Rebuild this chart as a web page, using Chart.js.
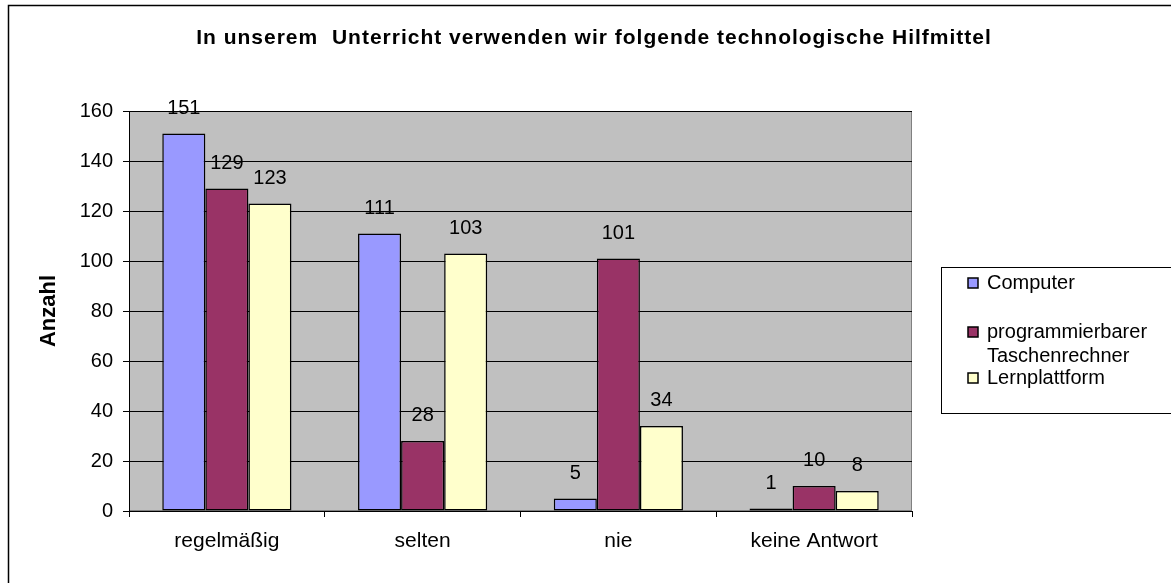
<!DOCTYPE html>
<html><head><meta charset="utf-8">
<script src="https://cdn.jsdelivr.net/npm/chart.js@4"></script>
<style>html,body{margin:0;padding:0;background:#fff}#wrap{width:1171px;height:583px;position:relative}</style>
</head><body><div id="wrap"><canvas id="c" width="1171" height="583"></canvas></div>
<script>
const titleText = 'In unserem  Unterricht verwenden wir folgende technologische Hilfmittel';
const axisTitle = 'Anzahl';
const categories = ['regelmäßig', 'selten', 'nie', 'keine Antwort'];
const seriesNames = ['Computer', 'programmierbarer Taschenrechner', 'Lernplattform'];
const computer = [151, 111, 5, 1];
const taschenrechner = [129, 28, 101, 10];
const lernplattform = [123, 103, 34, 8];
const yTicks = [0, 20, 40, 60, 80, 100, 120, 140, 160];
const colors = ['#9999FF', '#993366', '#FFFFCC'];

const FONT = "'Liberation Sans', Arial, sans-serif";
Chart.defaults.font.family = FONT;
Chart.defaults.color = '#000';

const decor = {
  id: 'decor',
  beforeDraw(chart) {
    const ctx = chart.ctx, a = chart.chartArea;
    ctx.save();
    ctx.fillStyle = '#fff';
    ctx.fillRect(0, 0, chart.width, chart.height);
    ctx.strokeStyle = '#000';
    ctx.lineWidth = 1.5;
    ctx.beginPath();
    ctx.moveTo(8.5, chart.height + 2);
    ctx.lineTo(8.5, 5.5);
    ctx.lineTo(chart.width + 2, 5.5);
    ctx.stroke();
    ctx.fillStyle = '#C0C0C0';
    ctx.fillRect(a.left, a.top, a.right - a.left, a.bottom - a.top);
    ctx.lineWidth = 1;
    ctx.strokeStyle = '#808080';
    ctx.strokeRect(a.left + 0.5, a.top + 0.5, a.right - a.left - 1, a.bottom - a.top - 1);
    ctx.restore();
  },
  afterDatasetsDraw(chart) {
    const ctx = chart.ctx;
    ctx.save();
    ctx.font = '20px ' + FONT;
    ctx.fillStyle = '#000';
    ctx.textAlign = 'center';
    ctx.textBaseline = 'alphabetic';
    chart.data.datasets.forEach((ds, i) => {
      chart.getDatasetMeta(i).data.forEach((el, j) => {
        ctx.fillText(String(ds.data[j]), el.x, el.y - 20);
      });
    });
    ctx.restore();
  },
  afterDraw(chart) {
    const ctx = chart.ctx;
    ctx.save();
    // title
    ctx.font = 'bold 21px ' + FONT;
    ctx.letterSpacing = '1px';
    ctx.fillStyle = '#000';
    ctx.textAlign = 'center';
    ctx.textBaseline = 'alphabetic';
    ctx.fillText(titleText, 594, 44);
    ctx.letterSpacing = '0px';
    // legend
    ctx.strokeStyle = '#000';
    ctx.lineWidth = 1;
    ctx.strokeRect(941.5, 267.5, 1240 - 941, 413 - 267);
    ctx.font = '20px ' + FONT;
    ctx.textAlign = 'left';
    ctx.textBaseline = 'middle';
    const rows = [[283], [332, 356], [378]];
    chart.data.datasets.forEach((ds, i) => {
      const words = ds.label.split(' ');
      const lines = words.length > 1 ? words : [ds.label];
      const ys = rows[i];
      ctx.fillStyle = ds.backgroundColor;
      ctx.fillRect(968, ys[0] - 5, 10, 10);
      ctx.strokeStyle = '#000';
      ctx.lineWidth = 1.5;
      ctx.strokeRect(968, ys[0] - 5, 10, 10);
      ctx.fillStyle = '#000';
      lines.forEach((t, k) => ctx.fillText(t, 987, ys[Math.min(k, ys.length - 1)]));
    });
    ctx.restore();
  }
};

new Chart(document.getElementById('c'), {
  type: 'bar',
  data: {
    labels: categories,
    datasets: [computer, taschenrechner, lernplattform].map((d, i) => ({
      label: seriesNames[i],
      data: d,
      backgroundColor: colors[i],
      borderColor: '#000',
      borderWidth: 1.5,
      borderSkipped: false,
      categoryPercentage: 0.66,
      barPercentage: 1.0
    }))
  },
  options: {
    responsive: false,
    animation: false,
    layout: { padding: { left: 0, right: 259, top: 111, bottom: 0 } },
    plugins: { legend: { display: false }, title: { display: false }, tooltip: { enabled: false } },
    scales: {
      x: {
        afterFit: s => { s.height = 72; },
        grid: { offset: true, drawOnChartArea: false, color: '#000', tickLength: 6, tickColor: '#000' },
        border: { color: '#000', width: 1 },
        ticks: { font: { size: 21 }, padding: 12, color: '#000' }
      },
      y: {
        min: 0, max: 160,
        afterFit: s => { s.width = 129; },
        afterBuildTicks: s => { s.ticks = yTicks.map(v => ({ value: v })); },
        grid: { color: '#000', tickLength: 6, tickColor: '#000' },
        border: { color: '#000', width: 1 },
        ticks: { font: { size: 20 }, padding: 10, color: '#000' },
        title: { display: true, text: axisTitle, font: { size: 22, weight: 'bold' }, padding: { top: 36, bottom: 0 }, color: '#000' }
      }
    }
  },
  plugins: [decor]
});
</script>
</body></html>
